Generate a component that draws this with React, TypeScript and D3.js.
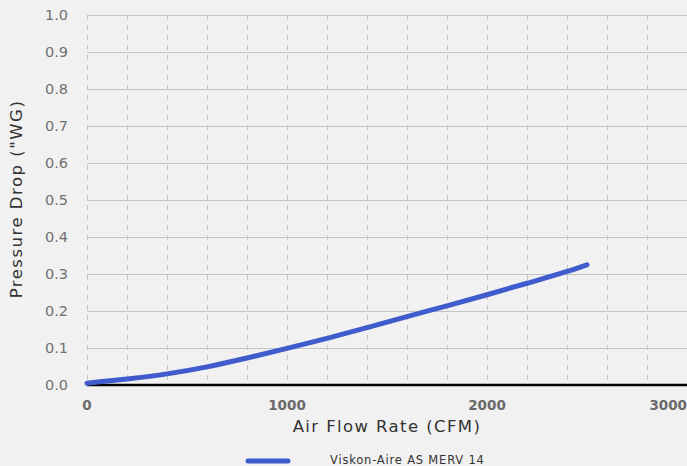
import { useEffect, useRef } from "react";
import * as d3 from "d3";

const airflow = [0, 200, 400, 600, 800, 1000, 1200, 1400, 1600, 1800, 2000, 2200, 2400, 2500];
const pressure = [0.005, 0.016, 0.03, 0.049, 0.073, 0.099, 0.126, 0.155, 0.185, 0.214, 0.244, 0.275, 0.307, 0.325];
const xTicks = [0, 1000, 2000, 3000];
const yTicks = [0, 0.1, 0.2, 0.3, 0.4, 0.5, 0.6, 0.7, 0.8, 0.9, 1.0];
const xGrid = d3.range(0, 3000, 200);
const seriesName = "Viskon-Aire AS MERV 14";

const WIDTH = 687;
const HEIGHT = 466;
const FONT = "'DejaVu Sans', 'Open Sans', sans-serif";

const App = () => {
  const svgRef = useRef<SVGSVGElement>(null);

  useEffect(() => {
    const svg = d3.select(svgRef.current);
    svg.selectAll("*").remove();

    const margin = { top: 15, right: 0, bottom: 81, left: 87 };
    const innerWidth = WIDTH - margin.left - margin.right;
    const innerHeight = HEIGHT - margin.top - margin.bottom;

    svg.append("rect").attr("width", WIDTH).attr("height", HEIGHT).attr("fill", "#f1f1f1");

    const g = svg.append("g").attr("transform", `translate(${margin.left},${margin.top})`);

    const x = d3.scaleLinear().domain([0, 3000]).range([0, innerWidth]);
    const y = d3.scaleLinear().domain([0, 1]).range([innerHeight, 0]);

    // vertical dashed grid
    g.selectAll(".vgrid")
      .data(xGrid)
      .enter()
      .append("line")
      .attr("x1", (d) => x(d) + 0.5)
      .attr("x2", (d) => x(d) + 0.5)
      .attr("y1", 0)
      .attr("y2", innerHeight)
      .attr("stroke", "#c4c4c4")
      .attr("stroke-width", 1)
      .attr("stroke-dasharray", "5,5");

    // horizontal grid
    g.selectAll(".hgrid")
      .data(yTicks.slice(1))
      .enter()
      .append("line")
      .attr("x1", 0)
      .attr("x2", innerWidth)
      .attr("y1", (d) => Math.round(y(d)) + 0.5)
      .attr("y2", (d) => Math.round(y(d)) + 0.5)
      .attr("stroke", "#c4c4c4")
      .attr("stroke-width", 1.2);

    // y tick labels
    g.selectAll(".ylab")
      .data(yTicks)
      .enter()
      .append("text")
      .attr("x", -19)
      .attr("y", (d) => y(d))
      .attr("dy", "0.36em")
      .attr("text-anchor", "end")
      .attr("font-family", FONT)
      .attr("font-size", 14.5)
      .attr("fill", "#707070")
      .text((d) => d.toFixed(1));

    // x tick labels
    g.selectAll(".xlab")
      .data(xTicks)
      .enter()
      .append("text")
      .attr("x", (d) => x(d))
      .attr("y", innerHeight + 25)
      .attr("text-anchor", (d, i) => (i === xTicks.length - 1 ? "end" : "middle"))
      .attr("font-family", FONT)
      .attr("font-size", 13.5)
      .attr("font-weight", "bold")
      .attr("fill", "#6a6a6a")
      .text((d) => String(d));

    // x axis baseline
    g.append("line")
      .attr("x1", 0)
      .attr("x2", innerWidth)
      .attr("y1", innerHeight)
      .attr("y2", innerHeight)
      .attr("stroke", "#000")
      .attr("stroke-width", 2.5);

    // curve
    const pts = airflow.map((a, i) => [a, pressure[i]] as [number, number]);
    const line = d3
      .line<[number, number]>()
      .x((d) => x(d[0]))
      .y((d) => y(d[1]))
      .curve(d3.curveMonotoneX);

    g.append("path")
      .datum(pts)
      .attr("d", line)
      .attr("fill", "none")
      .attr("stroke", "#3f5bcc")
      .attr("stroke-width", 5)
      .attr("stroke-linecap", "round")
      .attr("stroke-linejoin", "round");

    // axis titles
    svg.append("text")
      .attr("x", margin.left + innerWidth / 2)
      .attr("y", 432)
      .attr("text-anchor", "middle")
      .attr("font-family", FONT)
      .attr("font-size", 16.5)
      .attr("letter-spacing", 1.4)
      .attr("fill", "#333")
      .text("Air Flow Rate (CFM)");

    svg.append("text")
      .attr("transform", `translate(22,${margin.top + innerHeight / 2 - 1}) rotate(-90)`)
      .attr("text-anchor", "middle")
      .attr("font-family", FONT)
      .attr("font-size", 16.5)
      .attr("letter-spacing", 1.5)
      .attr("fill", "#333")
      .text('Pressure Drop ("WG)');

    // legend
    svg.append("line")
      .attr("x1", 248)
      .attr("x2", 288)
      .attr("y1", 461)
      .attr("y2", 461)
      .attr("stroke", "#3f5bcc")
      .attr("stroke-width", 5)
      .attr("stroke-linecap", "round");

    svg.append("text")
      .attr("x", 330)
      .attr("y", 464)
      .attr("font-family", FONT)
      .attr("font-size", 11.5)
      .attr("letter-spacing", 0.8)
      .attr("fill", "#333")
      .text(seriesName);
  }, []);

  return (
    <svg
      ref={svgRef}
      width={WIDTH}
      height={HEIGHT}
      style={{ position: "absolute", top: 0, left: 0, display: "block" }}
    />
  );
};

export default App;
